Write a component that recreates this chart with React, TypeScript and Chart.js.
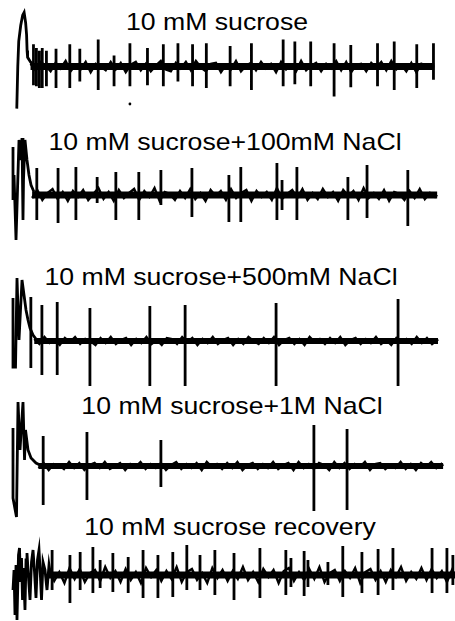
import React, { useEffect, useRef } from "react";
import { Chart, registerables } from "chart.js";

Chart.register(...registerables);

type Pt = [number, number];
type Tick = [number, number, number];

// Titles of the five recordings
const TITLES = [
  "10 mM sucrose",
  "10 mM sucrose+100mM NaCl",
  "10 mM sucrose+500mM NaCl",
  "10 mM sucrose+1M NaCl",
  "10 mM sucrose recovery",
];

// time (s) where each trace's steady baseline starts / ends
const BAND_START = [0.33, 0.45, 0.5, 0.6, 0.85];
const TRACE_END = [10.0, 9.98, 10.0, 10.12, 10.4];
const NOISE_STEP = 0.12; // s between baseline noise samples

// ---------- Trace 1 : 10 mM sucrose ----------
const T1_TRANSIENT: Pt[] = [
  [0, -4.5], [0.024, 0.0], [0.047, 2.7], [0.094, 4.4], [0.141, 5.5], [0.176, 5.8],
  [0.212, 4.7], [0.235, 3.4], [0.247, 1.7], [0.259, 1.0], [0.329, 0.5], [0.4, 0.1],
];
const T1_SPIKES: Tick[] = [
  [0.4, 2.4, -2.0], [0.47, 2.0, -2.1], [0.54, 1.7, -2.3], [0.61, 2.0, -2.3], [0.71, 1.7, -2.1],
  [0.94, 1.9, -2.3], [1.27, 2.4, -2.3], [1.51, 1.9, -1.6], [1.95, 2.9, -2.5], [2.33, 1.2, -2.1],
  [2.71, 2.5, -2.1], [3.13, 2.0, -2.0], [3.51, 2.4, -2.1], [3.86, 2.5, -1.6], [4.21, 2.4, -2.1],
  [4.54, 2.5, -2.3], [5.11, 2.2, -2.1], [5.62, 2.5, -2.5], [6.38, 2.9, -2.1], [6.66, 2.7, -1.9],
  [7.04, 2.7, -2.1], [7.6, 2.5, -3.2], [8.0, 2.3, -2.2], [8.64, 2.5, -2.1], [9.04, 2.7, -2.5],
  [9.58, 2.4, -2.3], [9.98, 2.5, -1.4],
];
const T1_NOISE = [
  0.3, -0.4, 0.5, 0.1, -0.5, 0.4, -0.2, 0.6, -0.5, 0.2,
  -0.3, 0.5, -0.6, 0.3, 0.0, -0.4, 0.5, -0.3, 0.4, -0.6,
  0.2, 0.5, -0.4, 0.3, -0.5, 0.1, 0.6, -0.3, -0.5, 0.4,
  -0.2, 0.5, -0.4, 0.6, -0.1, -0.5, 0.3, 0.4, -0.6, 0.2,
  -0.3, 0.6, -0.5, 0.1, 0.4, -0.4, 0.5, -0.2, 0.3, -0.6,
  0.5, -0.3, 0.2, -0.5, 0.6, -0.4, 0.1, 0.4, -0.5, 0.3,
  -0.2, 0.6, -0.4, 0.5, -0.6, 0.2, 0.3, -0.5, 0.4, -0.1,
  0.5, -0.4, 0.6, -0.3, 0.2, -0.5, 0.4, -0.6, 0.3, 0.1,
];
const T1_DOT: Pt[] = [[2.71, -4.0]];

// ---------- Trace 2 : +100 mM NaCl ----------
const T2_TRANSIENT: Pt[] = [
  [0, 4.8], [0, -0.5], [0.024, 2.0], [0.071, -4.5], [0.106, 0.5], [0.141, 5.5], [0.188, 3.5],
  [0.212, 5.7], [0.235, -2.5], [0.247, 1.5], [0.282, 5.5], [0.329, 3.5], [0.376, 2.0],
  [0.424, 1.0], [0.494, 0.3],
];
const T2_SPIKES: Tick[] = [
  [0.56, 2.7, -2.5], [1.06, 2.7, -2.8], [1.48, 2.8, -2.5], [1.98, 1.8, -0.8], [2.42, 2.3, -2.5],
  [2.96, 2.3, -2.5], [3.48, 2.5, -1.0], [4.21, 2.7, -2.2], [5.08, 2.0, -2.7], [5.36, 2.8, -2.7],
  [6.21, 3.2, -2.5], [6.33, 1.5, -1.5], [6.68, 2.8, -2.5], [7.88, 1.8, -2.5], [8.33, 3.0, -2.3],
  [9.29, 2.5, -3.1],
];
const T2_NOISE = [
  -0.3, 0.5, -0.5, 0.2, 0.6, -0.4, 0.3, -0.6, 0.4, -0.2,
  0.5, -0.5, 0.1, 0.7, -0.4, 0.3, -0.6, 0.5, -0.3, 0.2,
  0.6, -0.5, 0.4, -0.2, 0.7, -0.6, 0.3, 0.1, -0.5, 0.4,
  -0.3, 0.6, -0.4, 0.2, -0.6, 0.5, -0.1, 0.4, -0.5, 0.6,
  -0.3, 0.2, 0.5, -0.6, 0.4, -0.2, 0.3, -0.5, 0.7, -0.4,
  0.1, 0.5, -0.3, 0.6, -0.5, 0.2, -0.4, 0.6, -0.2, 0.3,
  -0.6, 0.5, -0.1, 0.4, -0.5, 0.7, -0.3, 0.2, -0.4, 0.5,
  -0.6, 0.3, 0.1, -0.5, 0.4, -0.3, 0.6, -0.4, 0.2, -0.2,
];

// ---------- Trace 3 : +500 mM NaCl ----------
const T3_TRANSIENT: Pt[] = [
  [0, 4.3], [0, -2.6], [0.059, -2.6], [0.094, 6.3], [0.141, 0.1], [0.212, 6.1], [0.259, 4.6],
  [0.306, 3.1], [0.353, 2.1], [0.4, 1.3], [0.471, 0.6], [0.541, 0.2],
];
const T3_SPIKES: Tick[] = [
  [0.42, 4.4, -2.7], [0.68, 3.6, -3.4], [1.04, 3.9, -3.4], [1.81, 3.3, -4.5], [3.22, 3.5, -4.5],
  [4.05, 3.6, -4.5], [6.19, 3.8, -4.5], [9.06, 4.2, -4.5],
];
const T3_NOISE = [
  0.2, -0.3, 0.4, -0.2, 0.1, -0.4, 0.3, -0.1, 0.4, -0.3,
  0.2, 0.0, -0.4, 0.3, -0.2, 0.4, -0.3, 0.1, 0.3, -0.4,
  0.2, -0.2, 0.4, -0.3, 0.1, -0.4, 0.3, 0.2, -0.3, 0.4,
  -0.1, 0.3, -0.4, 0.2, -0.2, 0.4, -0.3, 0.1, 0.3, -0.4,
  0.2, -0.3, 0.4, 0.0, -0.3, 0.3, -0.2, 0.4, -0.4, 0.1,
  0.3, -0.3, 0.2, -0.4, 0.4, -0.1, 0.2, -0.3, 0.3, -0.2,
  0.4, -0.4, 0.1, 0.3, -0.3, 0.2, -0.2, 0.4, -0.3, 0.1,
  -0.4, 0.3, -0.1, 0.2, -0.3, 0.4, -0.2, 0.3, -0.3, 0.1,
];

// ---------- Trace 4 : +1 M NaCl ----------
const T4_TRANSIENT: Pt[] = [
  [0, 3.8], [0, -3.2], [0.082, -5.1], [0.118, 6.4], [0.165, 1.6], [0.235, 6.4], [0.271, 0.6],
  [0.294, 3.6], [0.353, 1.6], [0.424, 0.8], [0.541, 0.3], [0.635, 0.1],
];
const T4_SPIKES: Tick[] = [
  [0.71, 3.0, -3.9], [1.74, 3.4, -3.4], [3.48, 2.6, -2.1], [7.08, 4.1, -4.5], [7.86, 3.7, -4.4],
];
const T4_NOISE = [
  -0.2, 0.3, -0.4, 0.2, 0.1, -0.3, 0.4, -0.2, 0.3, -0.4,
  0.1, 0.3, -0.2, 0.4, -0.3, 0.0, 0.3, -0.4, 0.2, -0.1,
  0.4, -0.3, 0.2, -0.2, 0.3, -0.4, 0.1, 0.4, -0.3, 0.2,
  -0.2, 0.3, -0.4, 0.4, -0.1, 0.2, -0.3, 0.3, -0.2, 0.4,
  -0.4, 0.1, 0.3, -0.3, 0.2, -0.2, 0.4, -0.3, 0.1, 0.3,
  -0.4, 0.4, -0.2, 0.2, -0.3, 0.3, 0.1, -0.4, 0.4, -0.2,
  0.3, -0.3, 0.2, -0.1, 0.4, -0.4, 0.2, 0.3, -0.3, 0.1,
  -0.2, 0.4, -0.3, 0.2, -0.4, 0.3, -0.1, 0.4, -0.2, 0.2,
];

// ---------- Trace 5 : recovery ----------
const T5_TRANSIENT: Pt[] = [
  [0, -1.5], [0.024, 0.5], [0.047, -4.0], [0.071, 1.0], [0.094, -4.5], [0.129, 2.0],
  [0.153, 2.7], [0.176, -0.7], [0.2, 1.7], [0.224, -2.5], [0.247, 0.7], [0.282, -3.5],
  [0.306, 1.5], [0.329, 2.2], [0.365, -0.3], [0.4, -2.5], [0.435, 1.3], [0.471, 2.5],
  [0.506, 0.3], [0.541, -2.3], [0.576, 1.5], [0.612, 2.5], [0.647, -0.3], [0.671, -2.5],
  [0.706, 1.3], [0.753, 0.5], [0.8, -1.5], [0.847, 1.0], [0.894, -0.3],
];
const T5_SPIKES: Tick[] = [
  [0.92, 2.5, -1.5], [1.34, 2.0, -2.8], [1.58, 2.3, -1.5], [1.88, 2.8, -1.8], [2.05, 1.5, -1.3],
  [2.35, 2.2, -1.7], [2.71, 1.8, -1.8], [3.06, 2.5, -2.3], [3.41, 2.0, -2.3], [3.76, 2.3, -2.2],
  [4.09, 3.0, -1.5], [4.4, 2.0, -1.5], [4.75, 2.5, -2.0], [5.2, 2.2, -2.5], [5.81, 2.7, -2.3],
  [6.42, 2.5, -2.0], [6.54, 1.7, -1.2], [6.85, 2.4, -2.1], [6.94, 1.5, -1.2], [7.41, 1.3, -1.0],
  [7.76, 2.9, -2.2], [8.21, 2.3, -1.8], [8.59, 2.6, -2.0], [8.94, 2.7, -1.5], [9.86, 2.7, -1.8],
  [10.21, 2.7, -1.8], [10.35, 2.0, -1.0],
];
const T5_NOISE = [
  0.5, -0.6, 0.3, -0.8, 0.7, -0.4, 0.6, -0.7, 0.2, 0.5,
  -0.6, 0.8, -0.3, 0.4, -0.7, 0.6, -0.5, 0.3, -0.8, 0.7,
  -0.2, 0.5, -0.6, 0.4, -0.4, 0.8, -0.7, 0.3, 0.6, -0.5,
  0.2, -0.8, 0.7, -0.3, 0.5, -0.6, 0.4, -0.4, 0.8, -0.5,
  0.3, -0.7, 0.6, -0.2, 0.5, -0.8, 0.4, 0.7, -0.6, 0.3,
  -0.5, 0.6, -0.4, 0.8, -0.7, 0.2, 0.5, -0.6, 0.4, -0.3,
  0.7, -0.8, 0.3, 0.6, -0.5, 0.4, -0.7, 0.5, -0.2, 0.8,
  -0.6, 0.3, -0.4, 0.7, -0.5, 0.6, -0.3, 0.4, -0.7, 0.5,
];

const TRANSIENTS = [T1_TRANSIENT, T2_TRANSIENT, T3_TRANSIENT, T4_TRANSIENT, T5_TRANSIENT];
const SPIKES = [T1_SPIKES, T2_SPIKES, T3_SPIKES, T4_SPIKES, T5_SPIKES];
const NOISE = [T1_NOISE, T2_NOISE, T3_NOISE, T4_NOISE, T5_NOISE];

// layout (pixels) for each panel
const PANEL_LAYOUT = [
  { top: 0, height: 122, yMin: -5.5, yMax: 6.7, band: 7, titleX: 217, titleTop: 10 },
  { top: 122, height: 128, yMin: -5.5, yMax: 7.3, band: 7, titleX: 224.5, titleTop: 130 },
  { top: 250, height: 145, yMin: -5.4, yMax: 9.1, band: 6, titleX: 220.5, titleTop: 265 },
  { top: 380, height: 140, yMin: -5.4, yMax: 8.6, band: 6, titleX: 232, titleTop: 394 },
  { top: 515, height: 106, yMin: -4.6, yMax: 6.0, band: 7, titleX: 230, titleTop: 515 },
];
const X_MIN = -0.306;
const X_MAX = 10.4;
const W = 455;

function ticksToPoints(ticks: Tick[]) {
  const pts: { x: number; y: number | null }[] = [];
  for (const [t, up, down] of ticks) {
    pts.push({ x: t, y: up });
    pts.push({ x: t, y: down });
    pts.push({ x: t, y: null });
  }
  return pts;
}

function noiseToPoints(values: number[], start: number, end: number) {
  const pts: { x: number; y: number }[] = [];
  values.forEach((v, i) => {
    const t = start + i * NOISE_STEP;
    if (t <= end) pts.push({ x: t, y: v });
  });
  pts.push({ x: end, y: 0 });
  return pts;
}

function Panel({ idx }: { idx: number }) {
  const ref = useRef<HTMLCanvasElement | null>(null);
  const lay = PANEL_LAYOUT[idx];
  useEffect(() => {
    if (!ref.current) return;
    const datasets: any[] = [
      {
        data: [
          { x: BAND_START[idx], y: 0 },
          { x: TRACE_END[idx], y: 0 },
        ],
        borderColor: "#000",
        borderWidth: lay.band,
        pointRadius: 0,
      },
      {
        data: noiseToPoints(NOISE[idx], BAND_START[idx], TRACE_END[idx]),
        borderColor: "#000",
        borderWidth: 2.4,
        pointRadius: 0,
      },
      {
        data: ticksToPoints(SPIKES[idx]),
        borderColor: "#000",
        borderWidth: 2.8,
        pointRadius: 0,
        spanGaps: false,
      },
      {
        data: TRANSIENTS[idx].map(([x, y]) => ({ x, y })),
        borderColor: "#000",
        borderWidth: 2.8,
        pointRadius: 0,
      },
    ];
    if (idx === 0) {
      datasets.push({
        data: T1_DOT.map(([x, y]) => ({ x, y })),
        showLine: false,
        pointRadius: 1.4,
        pointBackgroundColor: "#000",
        pointBorderWidth: 0,
        borderColor: "#000",
      });
    }
    const chart = new Chart(ref.current, {
      type: "line",
      data: { datasets },
      options: {
        animation: false,
        responsive: false,
        devicePixelRatio: 1,
        events: [],
        layout: { padding: 0 },
        plugins: {
          legend: { display: false },
          tooltip: { enabled: false },
          title: { display: false },
        },
        elements: {
          point: { radius: 0 },
          line: { tension: 0, borderCapStyle: "butt", borderJoinStyle: "miter" },
        },
        scales: {
          x: { type: "linear", min: X_MIN, max: X_MAX, display: false },
          y: { type: "linear", min: lay.yMin, max: lay.yMax, display: false },
        },
      },
    } as any);
    return () => chart.destroy();
  }, [idx]);
  return (
    <canvas
      ref={ref}
      width={W}
      height={lay.height}
      style={{ position: "absolute", left: 0, top: lay.top, width: W, height: lay.height }}
    />
  );
}

export default function App() {
  return (
    <div
      style={{
        position: "absolute",
        left: 0,
        top: 0,
        width: W,
        height: 621,
        background: "#fff",
        overflow: "hidden",
      }}
    >
      {PANEL_LAYOUT.map((lay, i) => (
        <div
          key={"t" + i}
          style={{
            position: "absolute",
            left: lay.titleX,
            top: lay.titleTop,
            transform: "translateX(-50%) scaleX(1.11)",
            fontFamily: "Arial, 'Liberation Sans', sans-serif",
            fontSize: 24,
            lineHeight: "24px",
            whiteSpace: "nowrap",
            color: "#000",
          }}
        >
          {TITLES[i]}
        </div>
      ))}
      {PANEL_LAYOUT.map((_, i) => (
        <Panel key={i} idx={i} />
      ))}
    </div>
  );
}
